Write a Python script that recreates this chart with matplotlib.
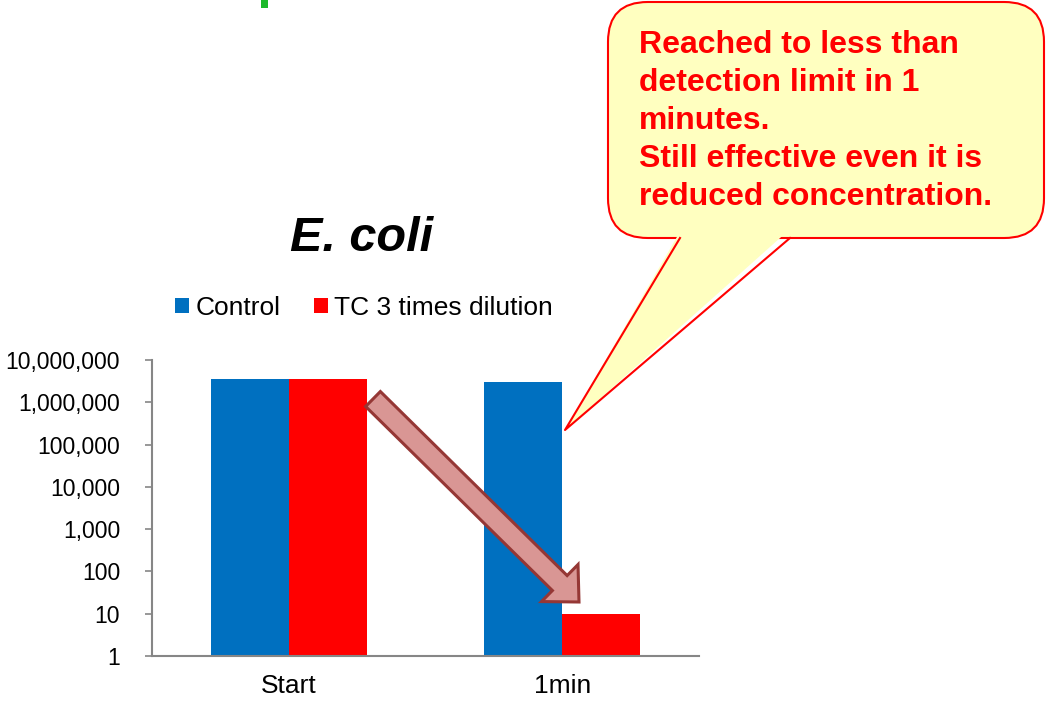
import matplotlib
matplotlib.use("Agg")
import matplotlib.pyplot as plt
from matplotlib.patches import FancyBboxPatch, Polygon, FancyArrow, Rectangle, Patch
from matplotlib.lines import Line2D
from matplotlib.ticker import FuncFormatter, FixedLocator, NullLocator
import numpy as np

plt.rcParams['font.family'] = ['Liberation Sans', 'DejaVu Sans']

# ---- data ----
categories = ["Start", "1min"]
series_names = ["Control", "TC 3 times dilution"]
control_values = [3.5e6, 3.0e6]
tc_values = [3.5e6, 10]
ytick_values = [1, 10, 100, 1000, 10000, 100000, 1000000, 10000000]
title_text = "E. coli"
callout_text = ("Reached to less than\ndetection limit in 1\nminutes.\n"
                "Still effective even it is\nreduced concentration.")

W, H = 1046, 702
fig = plt.figure(figsize=(W / 100, H / 100), dpi=100)
fig.patch.set_facecolor("white")

def fx(x):
    return x / W

def fy(y):
    return 1 - y / H

ax = fig.add_axes([fx(152), fy(656), fx(699) - fx(152), fy(360) - fy(656)])

blue = "#0070C0"
red = "#FF0000"
x = np.arange(len(categories))
bw = 0.285
ax.bar(x - bw / 2, control_values, width=bw, color=blue, label=series_names[0], zorder=2)
ax.bar(x + bw / 2, tc_values, width=bw, color=red, label=series_names[1], zorder=2)

ax.set_yscale("log")
ax.set_ylim(1, 1e7)
ax.set_xlim(-0.5, 1.5)
ax.yaxis.set_major_locator(FixedLocator(ytick_values))
ax.yaxis.set_minor_locator(NullLocator())
ax.yaxis.set_major_formatter(FuncFormatter(lambda v, p: f"{int(round(v)):,}"))
ax.set_xticks(x)
ax.set_xticklabels(categories)

gray = "#868686"
for s in ["top", "right"]:
    ax.spines[s].set_visible(False)
for s in ["left", "bottom"]:
    ax.spines[s].set_color(gray)
    ax.spines[s].set_linewidth(1.5)
ax.tick_params(axis="y", length=5, width=1.2, color=gray, pad=18, labelsize=16.5, labelcolor="black")
ax.tick_params(axis="x", length=0, pad=13, labelsize=19, labelcolor="black")

# legend
handles = [Patch(facecolor=blue, edgecolor="none"), Patch(facecolor=red, edgecolor="none")]
fig.legend(handles, series_names, loc="center left",
           bbox_to_anchor=(fx(175), fy(308)), bbox_transform=fig.transFigure,
           ncol=2, frameon=False, fontsize=19, handlelength=0.53, handleheight=0.53,
           handletextpad=0.25, columnspacing=1.25, borderpad=0, borderaxespad=0)

# title
fig.text(fx(362), fy(238), title_text, ha="center", va="center",
         fontsize=35, fontweight="bold", fontstyle="italic")

# green mark at top
fig.add_artist(Rectangle((fx(261), fy(8)), fx(7), 8 / H, transform=fig.transFigure,
                         facecolor="#1DB92B", edgecolor="none"))

# callout box
cfill = "#FFFFC0"
box = FancyBboxPatch((fx(608), fy(238)), fx(1044) - fx(608), fy(2) - fy(238),
                     boxstyle="round,pad=0,rounding_size=0.038",
                     transform=fig.transFigure, facecolor=cfill, edgecolor=red,
                     linewidth=1.5, zorder=5, mutation_aspect=W / H)
fig.add_artist(box)
tri_fill = Polygon([(fx(681), fy(230)), (fx(565), fy(430)), (fx(789), fy(230))],
                   closed=True, transform=fig.transFigure, facecolor=cfill,
                   edgecolor="none", zorder=6)
fig.add_artist(tri_fill)
tri_edge = Line2D([fx(680), fx(565), fx(790)], [fy(238), fy(430), fy(238)],
                  transform=fig.transFigure, color=red, linewidth=1.5, zorder=7)
fig.add_artist(tri_edge)
fig.text(fx(639), fy(30), callout_text, ha="left", va="top", fontsize=23,
         fontweight="bold", color=red, linespacing=1.35, zorder=8)

# big arrow
x0, y0 = 373 / 100, (H - 399) / 100
x1, y1 = 579 / 100, (H - 602) / 100
arr = FancyArrow(x0, y0, x1 - x0, y1 - y0, width=0.21, head_width=0.52,
                 head_length=0.27, length_includes_head=True,
                 transform=fig.dpi_scale_trans, facecolor="#D99694",
                 edgecolor="#953735", linewidth=2.2, zorder=4)
fig.add_artist(arr)

fig.savefig("out.png", dpi=100)
